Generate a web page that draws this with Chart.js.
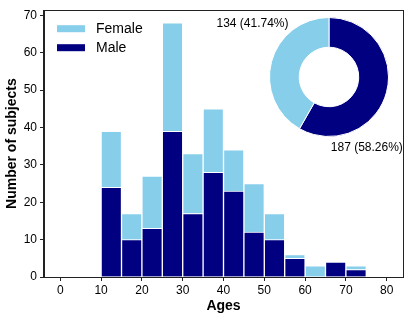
<!DOCTYPE html>
<html>
<head>
<meta charset="utf-8">
<script src="https://cdn.jsdelivr.net/npm/chart.js@4.4.1/dist/chart.umd.min.js"></script>
<style>
  html, body { margin: 0; padding: 0; background: #fff; }
  #wrap { position: relative; width: 415px; height: 321px; }
  #wrap canvas { position: absolute; left: 0; top: 0; }
  #donut { pointer-events: none; }
</style>
</head>
<body>
<div id="wrap">
  <canvas id="hist" width="415" height="321"></canvas>
  <canvas id="donut" width="415" height="321"></canvas>
</div>
<script>
// histogram bins (age, 5-year wide)
const binStarts = [10, 15, 20, 25, 30, 35, 40, 45, 50, 55, 60, 65, 70]
const binWidth = 5
const maleCounts   = [24, 10, 13, 39, 17, 28, 23, 12, 10, 5, 0, 4, 2]
const femaleCounts = [15,  7, 14, 29, 16, 17, 11, 13,  7, 1, 3, 0, 1]
const xTicks = [0, 10, 20, 30, 40, 50, 60, 70, 80]
const yTicks = [0, 10, 20, 30, 40, 50, 60, 70]

// donut totals
const genderLabels = ['Male', 'Female']
const genderTotals = [187, 134]

const MALE = '#000080'
const FEMALE = '#87ceeb'
const FONT = "'Liberation Sans', Arial, Helvetica, sans-serif"

Chart.defaults.font.family = FONT
Chart.defaults.color = '#000'

const toPoints = (counts) => counts.map((v, i) => ({ x: binStarts[i] + binWidth / 2, y: v }))

// box around the plot + legend in upper left
const frameAndLegend = {
    id: 'frameAndLegend',
    afterDraw(chart) {
        const ctx = chart.ctx
        const a = chart.chartArea
        ctx.save()
        ctx.strokeStyle = '#222'
        ctx.lineWidth = 1
        ctx.strokeRect(Math.round(a.left) - 0.5, Math.round(a.top) + 0.5,
            Math.round(a.right - a.left) + 1, Math.round(a.bottom - a.top))
        // legend, Female first like the reference
        const items = chart.data.datasets.slice().reverse()
        ctx.font = '14px ' + FONT
        ctx.textBaseline = 'middle'
        ctx.textAlign = 'left'
        items.forEach((ds, i) => {
            const y = a.top + 15 + i * 19
            ctx.fillStyle = ds.backgroundColor
            ctx.fillRect(a.left + 13, y, 28, 7)
            ctx.fillStyle = '#000'
            ctx.fillText(ds.label, a.left + 52, y + 4)
        })
        ctx.restore()
    }
}

new Chart(document.getElementById('hist'), {
    type: 'bar',
    data: {
        datasets: [
            {
                label: 'Male',
                data: toPoints(maleCounts),
                backgroundColor: MALE,
                borderColor: '#fff',
                borderWidth: 1,
                barPercentage: 1,
                categoryPercentage: 1,
            },
            {
                label: 'Female',
                data: toPoints(femaleCounts),
                backgroundColor: FEMALE,
                borderColor: '#fff',
                borderWidth: 1,
                barPercentage: 1,
                categoryPercentage: 1,
            }
        ]
    },
    options: {
        responsive: false,
        animation: false,
        devicePixelRatio: 1,
        layout: { padding: { left: 0, top: 9, right: 12, bottom: 0 } },
        plugins: { legend: { display: false }, tooltip: { enabled: false } },
        scales: {
            x: {
                type: 'linear',
                stacked: true,
                offset: false,
                min: -4,
                max: 84,
                afterBuildTicks: (s) => { s.ticks = xTicks.map(v => ({ value: v })) },
                afterFit: (s) => { s.height = 44 },
                grid: { display: true, drawOnChartArea: false, drawTicks: true, tickLength: 4, color: '#222', offset: false },
                border: { display: true, color: '#222', width: 1 },
                ticks: { font: { size: 12 }, padding: 2, maxRotation: 0 },
                title: { display: true, text: 'Ages', font: { size: 14, weight: 'bold' }, padding: { top: 2, bottom: 6 } }
            },
            y: {
                stacked: true,
                min: 0,
                max: 71.4,
                afterBuildTicks: (s) => { s.ticks = yTicks.map(v => ({ value: v })) },
                afterFit: (s) => { s.width = 44 },
                grid: { display: true, drawOnChartArea: false, drawTicks: true, tickLength: 4, color: '#222' },
                border: { display: true, color: '#222', width: 1 },
                ticks: { font: { size: 12 }, padding: 3 },
                title: { display: true, text: 'Number of subjects', font: { size: 14, weight: 'bold' }, padding: { top: 4, bottom: 2 } }
            }
        }
    },
    plugins: [frameAndLegend]
})

// count (percent) labels next to the donut
const donutLabels = {
    id: 'donutLabels',
    afterDraw(chart) {
        const arcs = chart.getDatasetMeta(0).data
        const total = genderTotals.reduce((s, v) => s + v, 0)
        const ctx = chart.ctx
        ctx.save()
        ctx.font = '12px ' + FONT
        ctx.fillStyle = '#000'
        ctx.textBaseline = 'middle'
        arcs.forEach((arc, i) => {
            const r = arc.outerRadius
            const txt = genderTotals[i] + ' (' + (genderTotals[i] / total * 100).toFixed(2) + '%)'
            if (i === 0) {
                ctx.textAlign = 'left'
                ctx.fillText(txt, arc.x + 0.03 * r, arc.y + 1.18 * r)
            } else {
                ctx.textAlign = 'right'
                ctx.fillText(txt, arc.x - 0.68 * r, arc.y - 0.9 * r)
            }
        })
        ctx.restore()
    }
}

new Chart(document.getElementById('donut'), {
    type: 'doughnut',
    data: {
        labels: genderLabels,
        datasets: [{
            data: genderTotals,
            backgroundColor: [MALE, FEMALE],
            borderColor: '#fff',
            borderWidth: 1,
        }]
    },
    options: {
        responsive: false,
        animation: false,
        devicePixelRatio: 1,
        cutout: '50%',
        layout: { padding: { left: 269, top: 17, right: 26, bottom: 184 } },
        plugins: { legend: { display: false }, tooltip: { enabled: false } }
    },
    plugins: [donutLabels]
})
</script>
</body>
</html>
